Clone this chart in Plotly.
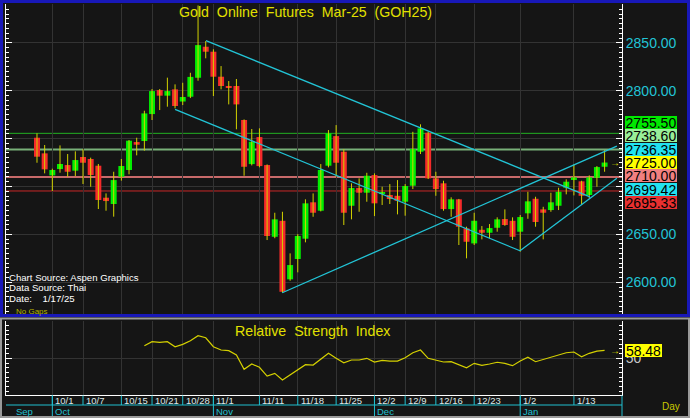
import plotly.graph_objects as go

# ---------------- data ----------------
opens = [2750.9, 2734.6, 2711.6, 2718.2, 2722.4, 2716.5, 2730.8, 2728.7, 2721.7, 2688.3,
         2681.7, 2710.2, 2717.2, 2746.4, 2747.5, 2775.6, 2800.7, 2794.8, 2801.4, 2788.7,
         2793.7, 2813.5, 2845.9, 2840.7, 2814.6, 2804.0, 2804.9, 2769.4, 2723.4, 2751.6,
         2722.4, 2647.5, 2664.2, 2603.1, 2624.3, 2645.5, 2683.5, 2674.7, 2721.7, 2752.6,
         2736.3, 2679.9, 2698.4, 2693.5, 2711.9, 2692.7, 2691.1, 2690.3, 2684.1, 2700.8,
         2736.3, 2756.1, 2708.5, 2703.3, 2676.4, 2686.6, 2656.3, 2640.6, 2654.8, 2651.7,
         2656.9, 2666.0, 2664.2, 2652.8, 2672.0, 2687.2, 2676.1, 2675.4, 2679.9, 2698.7,
         2707.8, 2705.4, 2691.1, 2709.1, 2720.6]
highs = [2755.5, 2743.3, 2718.6, 2742.9, 2733.9, 2736.7, 2738.8, 2730.1, 2723.5, 2692.8,
         2715.4, 2728.7, 2748.5, 2750.9, 2779.1, 2801.7, 2801.7, 2813.6, 2806.6, 2808.3,
         2818.7, 2889.0, 2851.8, 2843.2, 2825.7, 2810.1, 2812.2, 2770.0, 2760.0, 2760.7,
         2723.0, 2672.6, 2673.6, 2630.2, 2650.3, 2686.6, 2692.8, 2723.4, 2758.9, 2764.1,
         2738.8, 2703.3, 2708.5, 2714.3, 2713.7, 2699.8, 2702.5, 2706.7, 2702.5, 2757.1,
         2764.9, 2757.2, 2715.4, 2706.0, 2688.7, 2687.0, 2658.0, 2672.6, 2658.7, 2660.8,
         2667.8, 2676.1, 2667.8, 2670.2, 2694.5, 2689.3, 2678.8, 2693.5, 2698.7, 2707.5,
         2723.1, 2706.0, 2711.6, 2721.3, 2738.0]
lows = [2724.8, 2713.7, 2695.3, 2714.4, 2710.2, 2710.9, 2702.6, 2699.8, 2676.5, 2674.7,
        2668.5, 2706.1, 2712.7, 2732.5, 2737.4, 2769.4, 2779.8, 2783.3, 2781.6, 2785.0,
        2792.3, 2810.4, 2833.8, 2794.4, 2801.4, 2785.7, 2759.7, 2711.2, 2722.0, 2720.0,
        2644.1, 2646.0, 2589.1, 2601.6, 2610.4, 2641.7, 2668.4, 2674.0, 2720.0, 2710.2,
        2659.8, 2665.7, 2673.6, 2684.1, 2669.1, 2680.7, 2681.7, 2670.9, 2669.5, 2697.3,
        2733.9, 2707.8, 2690.3, 2674.7, 2668.4, 2638.9, 2625.0, 2638.9, 2644.8, 2645.9,
        2652.8, 2659.0, 2644.1, 2631.9, 2666.3, 2658.0, 2644.8, 2673.6, 2675.4, 2691.8,
        2690.7, 2681.4, 2687.6, 2699.7, 2715.4]
closes = [2731.1, 2717.9, 2717.2, 2723.5, 2715.4, 2727.6, 2724.8, 2712.0, 2685.9, 2684.8,
          2706.7, 2721.4, 2747.8, 2743.6, 2776.3, 2799.6, 2794.8, 2799.6, 2784.0, 2793.4,
          2814.4, 2847.6, 2840.7, 2814.6, 2804.9, 2803.0, 2785.7, 2720.6, 2746.7, 2721.3,
          2648.3, 2665.7, 2590.1, 2618.0, 2648.3, 2682.4, 2672.6, 2717.2, 2755.5, 2724.8,
          2672.6, 2698.4, 2693.5, 2711.2, 2682.4, 2693.7, 2686.9, 2685.1, 2700.5, 2739.1,
          2760.7, 2708.5, 2697.3, 2676.4, 2686.6, 2658.0, 2642.3, 2664.2, 2651.7, 2656.6,
          2665.7, 2659.8, 2647.5, 2668.1, 2684.5, 2662.9, 2672.6, 2683.5, 2694.5, 2705.0,
          2709.5, 2690.3, 2709.5, 2720.3, 2725.0]

rsi_start = 14
rsi_vals = [63.4, 67.6, 67.0, 67.6, 62.3, 64.8, 68.7, 74.0, 71.8, 62.3,
            58.8, 58.1, 53.5, 38.3, 44.0, 40.5, 31.2, 34.1, 27.0, 32.3,
            37.6, 43.2, 42.9, 49.3, 55.3, 50.0, 45.3, 48.2, 48.2, 50.0,
            46.1, 47.9, 47.1, 47.1, 50.6, 55.9, 58.8, 50.0, 48.2, 46.1,
            46.4, 42.9, 40.0, 44.7, 42.6, 44.0, 45.8, 44.7, 42.2, 47.1,
            51.1, 46.4, 48.9, 50.6, 53.5, 55.9, 56.7, 51.7, 55.3, 57.7, 58.48]
rsi_last = 58.48

tick_idx = [2, 6, 11, 15, 19, 23, 29, 34, 39, 44, 48, 52, 57, 63, 70]
tick_lbl = ["10/1", "10/7", "10/15", "10/21", "10/28", "11/1", "11/11", "11/18",
            "11/25", "12/2", "12/9", "12/16", "12/23", "1/2", "1/13"]
month_idx = [2, 23, 44, 63]
month_lbl = ["Oct", "Nov", "Dec", "Jan"]

price_ticks = [2600, 2650, 2700, 2750, 2800, 2850]
price_ticktext = ["2600.00", "2650.00", "", "", "2800.00", "2850.00"]

# trend lines: (x anchors in bar index, y anchors in price)
trend_x = [[22.03, 72.1], [18.0, 62.97], [62.97, 75.6], [31.98, 75.6]]
trend_y = [[2852.2, 2689.2], [2780.6, 2632.9], [2632.9, 2708.5], [2589.1, 2742.2]]

level_vals = [2755.50, 2738.60, 2710.00, 2695.33]
label_vals = [2755.50, 2738.60, 2736.35, 2725.00, 2710.00, 2699.42, 2695.33]
last_price = 2725.00

# ---------------- styles / geometry ----------------
W, H = 690, 418
BG = "#151515"
GRID = "#333333"
CYAN = "#22C4D6"
YEL = "#E2E000"
level_colors = ["#22B022", "#78B078", "#C86A6A", "#C82828"]
level_widths = [1, 2, 2, 1]
label_colors = ["#00E800", "#98EE98", "#22E2F0", "#FFFF00", "#F08080", "#22E2F0", "#E83030"]


def fx(p):
    return p / W


def fy(p):
    return 1 - p / H


xr = [-4.04, 76.27]
pr = [2566.9, 2890.5]
rr = [11.1, 89.9]
xdom = [fx(6), fx(622)]

fig = go.Figure()

idx = list(range(len(opens)))
wx, wy = [], []
for i in idx:
    wx += [i, i, None]
    wy += [lows[i], highs[i], None]
fig.add_trace(go.Scatter(x=wx, y=wy, mode="lines", line=dict(color="#D2D200", width=1),
                         hoverinfo="skip", xaxis="x", yaxis="y"))

base = [min(o, c) for o, c in zip(opens, closes)]
hgt = [max(abs(c - o), 1.0) for o, c in zip(opens, closes)]
cols = ["#00EE00" if c > o else "#F52A2A" for o, c in zip(opens, closes)]
fig.add_trace(go.Bar(x=idx, y=hgt, base=base, width=0.78,
                     marker=dict(color=cols, line=dict(width=0)), xaxis="x", yaxis="y"))

for xs, ys in zip(trend_x, trend_y):
    fig.add_trace(go.Scatter(x=xs, y=ys, mode="lines", line=dict(color=CYAN, width=1.3),
                             xaxis="x", yaxis="y"))

fig.add_trace(go.Scatter(x=[None], y=[None], xaxis="x", yaxis="y3"))

rsi_x = list(range(rsi_start, rsi_start + len(rsi_vals)))
fig.add_trace(go.Scatter(x=rsi_x, y=rsi_vals, mode="lines", line=dict(color="#D4D000", width=1.2),
                         xaxis="x2", yaxis="y2"))
fig.add_trace(go.Scatter(x=[None], y=[None], xaxis="x2", yaxis="y4"))

axis_common_x = dict(domain=xdom, range=xr, tickmode="array", tickvals=tick_idx,
                     showticklabels=False, ticks="", showgrid=True, gridcolor=GRID,
                     zeroline=False, fixedrange=True)
minor_p = dict(ticks="inside", ticklen=3, tickcolor="white", tick0=2600, dtick=5, showgrid=False)
minor_r = dict(ticks="inside", ticklen=3, tickcolor="white", tick0=10, dtick=5, showgrid=False)

fig.update_layout(
    width=W, height=H, margin=dict(l=0, r=0, t=0, b=0), autosize=False,
    paper_bgcolor=BG, plot_bgcolor=BG, showlegend=False, barmode="overlay",
    font=dict(family="Arial", color="white"),
    xaxis=dict(anchor="y", showline=False, **axis_common_x),
    xaxis2=dict(anchor="y2", showline=True, linecolor="white", linewidth=1, **axis_common_x),
    yaxis=dict(domain=[fy(314), fy(4)], range=pr, side="right", anchor="x",
               tickmode="array", tickvals=price_ticks, ticktext=price_ticktext,
               ticks="inside", ticklen=6, tickcolor="white", showline=True, linecolor="white",
               showgrid=True, gridcolor=GRID, zeroline=False, minor=minor_p,
               tickfont=dict(family="Arial", size=14, color=CYAN)),
    yaxis3=dict(overlaying="y", side="left", anchor="x", range=pr, tickmode="array",
                tickvals=price_ticks, ticks="inside", ticklen=6, tickcolor="white",
                showticklabels=False, showline=True, linecolor="white", showgrid=False,
                zeroline=False, minor=minor_p),
    yaxis2=dict(domain=[fy(395), fy(320.7)], range=rr, side="right", anchor="x2",
                tickmode="array", tickvals=[50], ticktext=["50"], ticks="inside", ticklen=6,
                tickcolor="white", showline=True, linecolor="white", showgrid=True,
                gridcolor=GRID, zeroline=False, minor=minor_r,
                tickfont=dict(family="Arial", size=14, color="#C8C8C8")),
    yaxis4=dict(overlaying="y2", side="left", anchor="x2", range=rr, tickmode="array",
                tickvals=[50], ticks="inside", ticklen=6, tickcolor="white",
                showticklabels=False, showline=True, linecolor="white", showgrid=False,
                zeroline=False, minor=minor_r),
)

shapes = []
for v, c, w in zip(level_vals, level_colors, level_widths):
    shapes.append(dict(type="line", xref="x domain", yref="y", x0=0, x1=1, y0=v, y1=v,
                       line=dict(color=c, width=w), layer="below"))

# bottom date axis decorations
for i in tick_idx:
    shapes.append(dict(type="line", xref="x2", yref="paper", x0=i, x1=i, y0=fy(405), y1=fy(395.5),
                       line=dict(color="#20C0D0", width=1)))
for i in month_idx:
    shapes.append(dict(type="line", xref="x2", yref="paper", x0=i, x1=i, y0=fy(418), y1=fy(395.5),
                       line=dict(color="#20C0D0", width=1)))
shapes.append(dict(type="line", xref="x2 domain", yref="paper", x0=1, x1=1, y0=fy(416), y1=fy(395.5),
                   line=dict(color="#20C0D0", width=1)))
shapes.append(dict(type="line", xref="x2 domain", yref="paper", x0=0, x1=1, y0=fy(405), y1=fy(405),
                   line=dict(color="#20C0D0", width=1)))
# panel borders
shapes.append(dict(type="rect", xref="paper", yref="paper", x0=fx(1.5), x1=fx(688.5),
                   y0=fy(315.5), y1=fy(1.5), line=dict(color="#1818B8", width=3)))
shapes.append(dict(type="rect", xref="paper", yref="paper", x0=fx(1), x1=fx(689),
                   y0=fy(417), y1=fy(318.5), line=dict(color="#9A9A9A", width=2)))

ann = []
ann.append(dict(text="Gold\u00a0 Online\u00a0 Futures\u00a0 Mar-25\u00a0 (GOH25)", xref="paper", yref="paper",
                x=fx(305), y=fy(11.5), xanchor="center", yanchor="middle", showarrow=False,
                font=dict(family="Arial", size=14.2, color=YEL)))
ann.append(dict(text="Relative\u00a0 Strength\u00a0 Index", xref="paper", yref="paper",
                x=fx(312), y=fy(330.5), xanchor="center", yanchor="middle", showarrow=False,
                font=dict(family="Arial", size=14.2, color=YEL)))
for k, t in enumerate(["Chart Source: Aspen Graphics", "Data Source: Thai",
                       "Date:\u00a0\u00a0\u00a0 1/17/25"]):
    ann.append(dict(text=t, xref="paper", yref="paper", x=fx(6.5), y=fy(277.7 + 10.2 * k),
                    xanchor="left", yanchor="middle", showarrow=False,
                    font=dict(family="Arial", size=9.6, color="white")))
ann.append(dict(text="No Gaps", xref="paper", yref="paper", x=fx(14), y=fy(311.5),
                xanchor="left", yanchor="middle", showarrow=False,
                font=dict(family="Arial", size=8, color="#B4B400")))

# price label boxes stacked around the last price
k_last = label_vals.index(last_price)
step = 13.33 * (pr[1] - pr[0]) / 310.0
for k, (v, c) in enumerate(zip(label_vals, label_colors)):
    ann.append(dict(text=f"{v:.2f}", xref="paper", yref="y", x=fx(625), y=last_price + (k_last - k) * step,
                    xanchor="left", yanchor="middle", showarrow=False, bgcolor=c,
                    borderpad=0, borderwidth=0, width=52, height=13.3, align="center",
                    font=dict(family="Arial", size=14, color="black")))
ann.append(dict(text="→", xref="paper", yref="y", x=fx(615), y=last_price, xanchor="center",
                yanchor="middle", showarrow=False, font=dict(size=10, color=YEL)))
ann.append(dict(text="→", xref="paper", yref="y2", x=fx(615), y=rsi_last, xanchor="center",
                yanchor="middle", showarrow=False, font=dict(size=10, color=YEL)))
ann.append(dict(text=f"{rsi_last:.2f}", xref="paper", yref="y2", x=fx(625), y=rsi_last,
                xanchor="left", yanchor="middle", showarrow=False, bgcolor="#FFFF00",
                borderpad=0, borderwidth=0, width=37, height=13.3,
                font=dict(family="Arial", size=14, color="black")))

for i, t in zip(tick_idx, tick_lbl):
    ann.append(dict(text=t, xref="x2", yref="paper", x=i, y=fy(400.5), xanchor="left",
                    yanchor="middle", xshift=1, showarrow=False,
                    font=dict(family="Arial", size=9.5, color="#DDE8E8")))
for i, t in zip(month_idx, month_lbl):
    ann.append(dict(text=t, xref="x2", yref="paper", x=i, y=fy(411), xanchor="left",
                    yanchor="middle", xshift=1, showarrow=False,
                    font=dict(family="Arial", size=9.5, color="#20C0D0")))
ann.append(dict(text="Sep", xref="paper", yref="paper", x=fx(14), y=fy(411), xanchor="left",
                yanchor="middle", showarrow=False, font=dict(family="Arial", size=9.5, color="#20C0D0")))
ann.append(dict(text="Day", xref="paper", yref="paper", x=fx(660), y=fy(406), xanchor="left",
                yanchor="middle", showarrow=False, font=dict(family="Arial", size=10, color="#C8C800")))

fig.update_layout(shapes=shapes, annotations=ann)
fig.write_html("out.html", config={"displayModeBar": False},
               post_script="document.body.style.margin='0px';document.body.style.overflow='hidden';")
